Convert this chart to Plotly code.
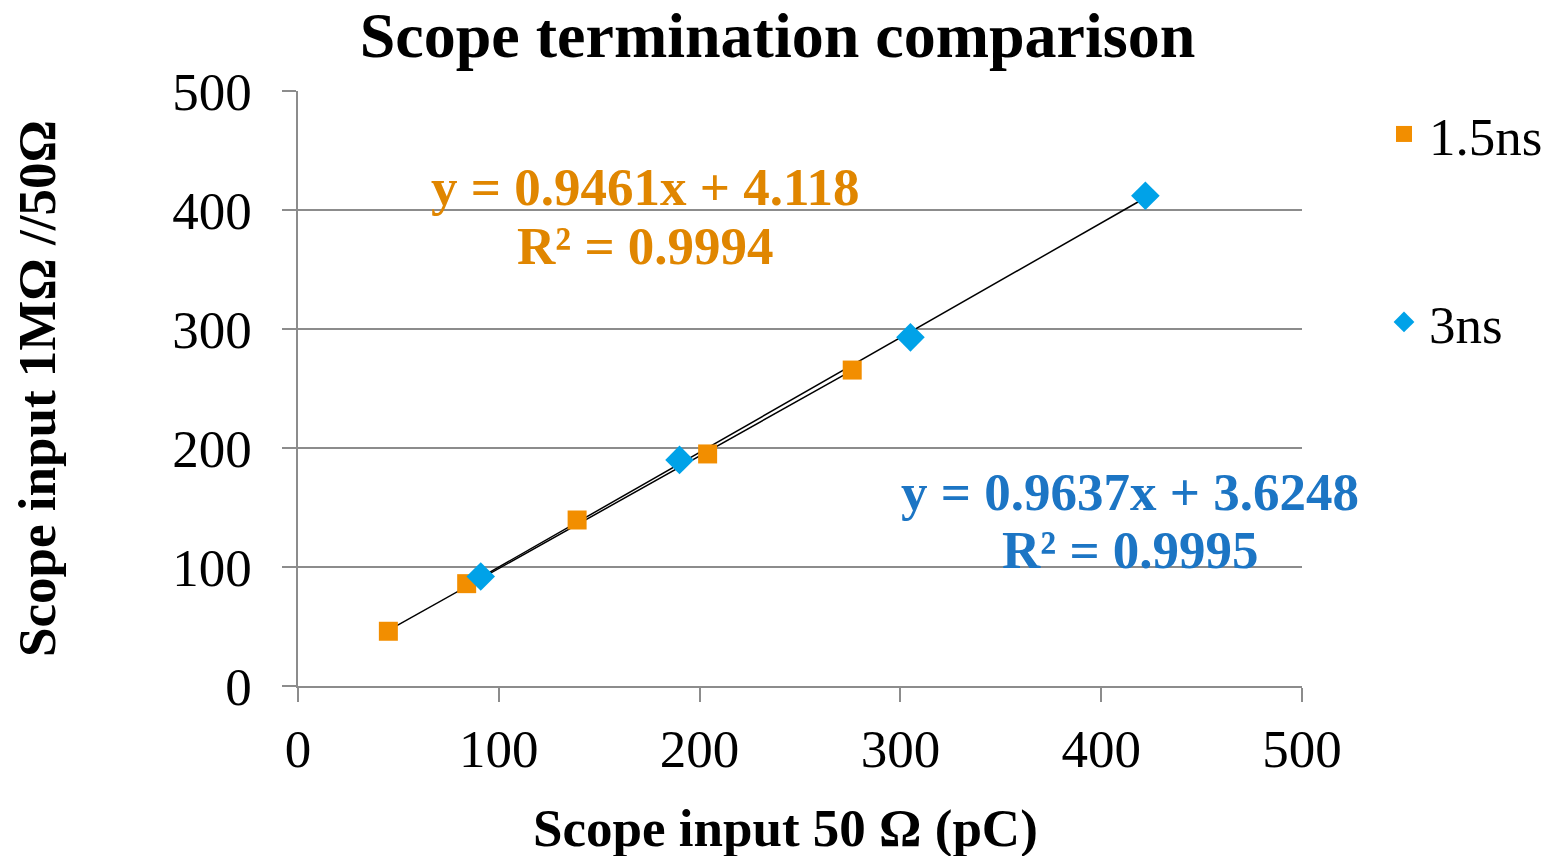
import plotly.graph_objects as go

# Data
x_15 = [45, 84, 139, 204, 276]
y_15 = [46, 86, 139.5, 195, 265.5]
x_3 = [91, 190, 305, 422]
y_3 = [92, 190, 293, 412]
fit_15 = (0.9461, 4.118, 0.9994)
fit_3 = (0.9637, 3.6248, 0.9995)
ticks = [0, 100, 200, 300, 400, 500]

FONT = "Liberation Serif"
ORANGE = "#F28E00"
BLUE = "#00A2E8"
ORANGE_TXT = "#E08600"
BLUE_TXT = "#1C75C4"

fig = go.Figure()

def trend(xs, fit):
    a, b, _ = fit
    xe = [min(xs), max(xs)]
    return xe, [a * v + b for v in xe]

tx, ty = trend(x_15, fit_15)
fig.add_trace(go.Scatter(x=tx, y=ty, mode="lines", line=dict(color="black", width=1.5),
                         showlegend=False, hoverinfo="skip"))
tx, ty = trend(x_3, fit_3)
fig.add_trace(go.Scatter(x=tx, y=ty, mode="lines", line=dict(color="black", width=1.5),
                         showlegend=False, hoverinfo="skip"))

fig.add_trace(go.Scatter(x=x_15, y=y_15, mode="markers", name="1.5ns",
                         marker=dict(symbol="square", size=19, color=ORANGE), legend="legend"))
fig.add_trace(go.Scatter(x=x_3, y=y_3, mode="markers", name="3ns",
                         marker=dict(symbol="diamond", size=22, color=BLUE), legend="legend2"))

W, H = 1555, 856
def px_x(p):
    return (p - 298) / 1004
def px_y(p):
    return (686 - p) / 595

ann_font = dict(family=FONT, size=53, weight="bold")
for txt, cx, cy, col in [
    ("y = 0.9461x + 4.118", 645, 187, ORANGE_TXT),
    ("R² = 0.9994", 645, 246, ORANGE_TXT),
    ("y = 0.9637x + 3.6248", 1130, 492, BLUE_TXT),
    ("R² = 0.9995", 1130, 550, BLUE_TXT),
]:
    fig.add_annotation(x=px_x(cx), y=px_y(cy), xref="paper", yref="paper",
                       xanchor="center", yanchor="middle",
                       text=txt, showarrow=False, font=dict(**ann_font, color=col))

# x-axis title as annotation (slightly left of plot centre, as in the reference)
fig.add_annotation(x=px_x(785), y=px_y(828), xref="paper", yref="paper",
                   xanchor="center", yanchor="middle", showarrow=False,
                   text="<b>Scope input 50 Ω (pC)</b>",
                   font=dict(family=FONT, size=53, color="black"))

axis_common = dict(
    range=[0, 500], tickvals=ticks, ticktext=[str(t) for t in ticks],
    gridcolor="#8C8C8C", gridwidth=1.5,
    showline=True, linecolor="#8C8C8C", linewidth=1.5,
    ticks="outside", ticklen=14, tickcolor="#8C8C8C", tickwidth=1.5,
    tickfont=dict(family=FONT, size=53, color="black"),
    zeroline=False, automargin=False,
)

legend_common = dict(xref="container", yref="container", xanchor="left", yanchor="middle",
                     itemwidth=40, font=dict(family=FONT, size=53, color="black"),
                     bgcolor="rgba(0,0,0,0)")

fig.update_layout(
    width=W, height=H,
    margin=dict(l=298, r=253, t=91, b=170, autoexpand=False),
    plot_bgcolor="white", paper_bgcolor="white",
    title=dict(text="<b>Scope termination comparison</b>", x=0.5, xanchor="center",
               y=1 - 35 / H, yanchor="middle", yref="container",
               font=dict(family=FONT, size=64, color="black"), automargin=False),
    xaxis=dict(**axis_common, showgrid=False, ticklabelstandoff=2),
    yaxis=dict(**axis_common, showgrid=True, ticklabelstandoff=20,
               title=dict(text="<b>Scope input 1MΩ //50Ω</b>", standoff=100,
                          font=dict(family=FONT, size=53, color="black"))),
    legend=dict(**legend_common, x=1379 / W, y=1 - 134 / H),
    legend2=dict(**legend_common, x=1379 / W, y=1 - 322 / H),
    showlegend=True,
)

fig.write_html("out.html")
